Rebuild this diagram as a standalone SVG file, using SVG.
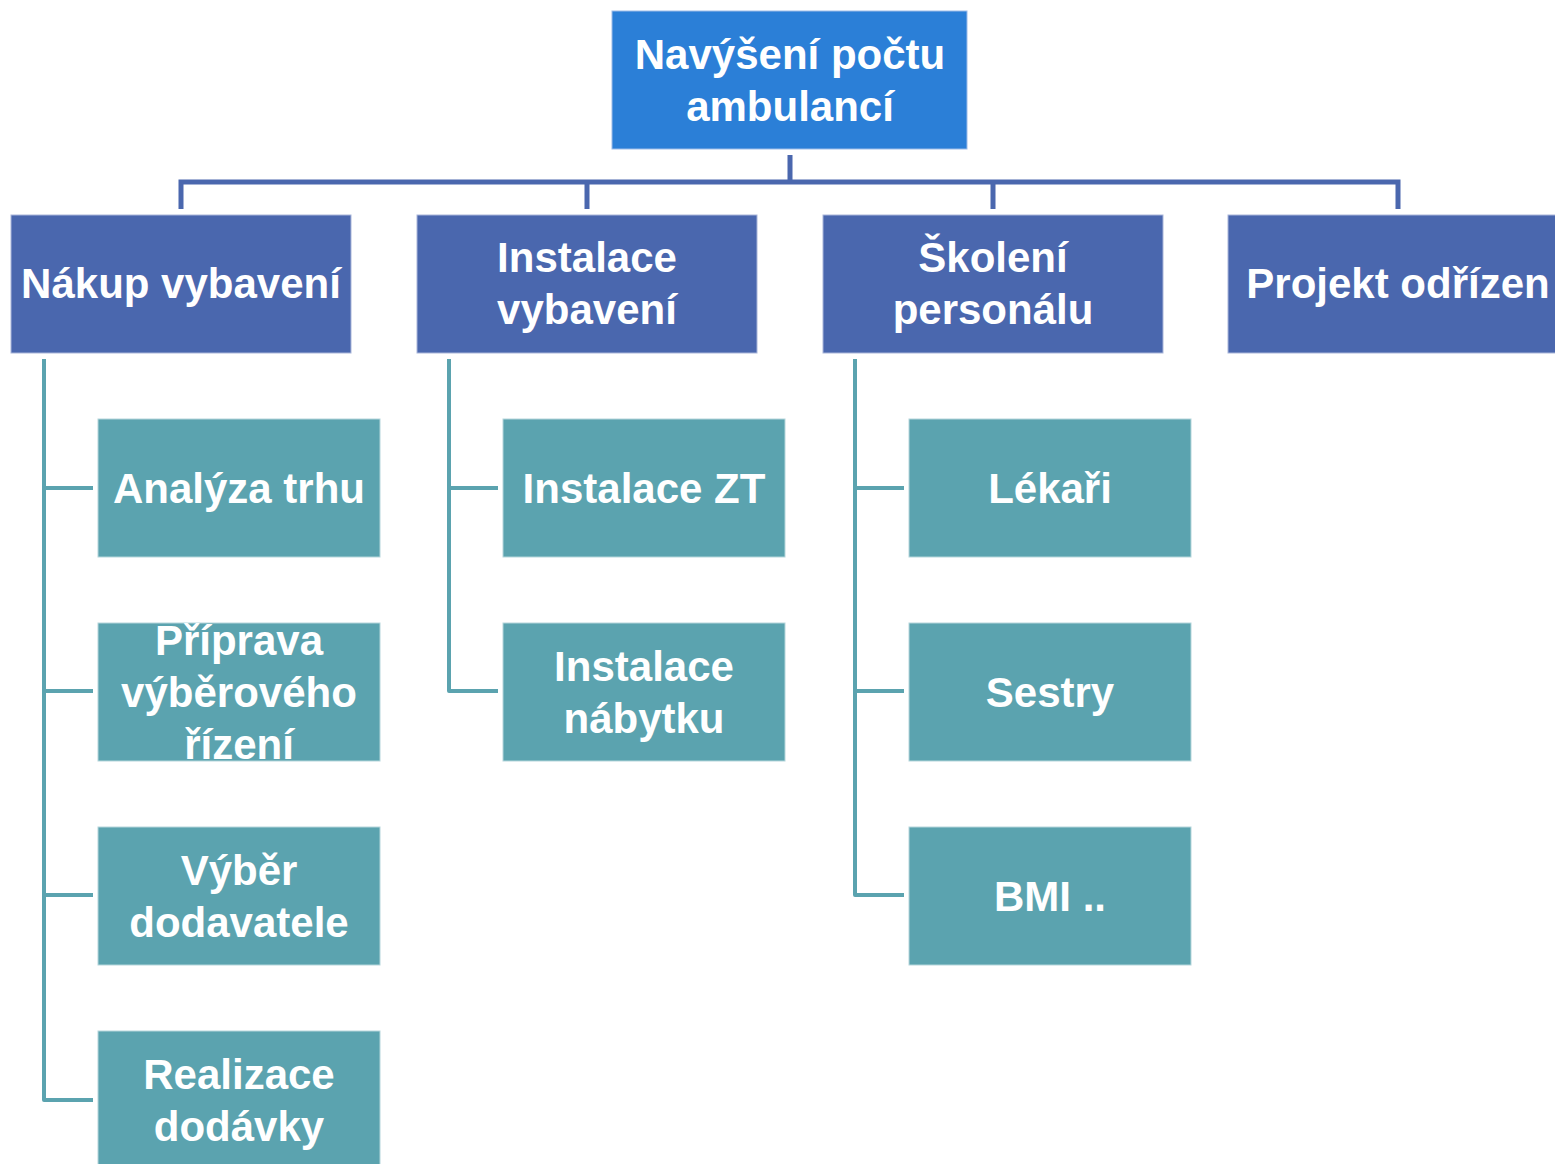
<svg xmlns="http://www.w3.org/2000/svg" width="1555" height="1164" viewBox="0 0 1555 1164">
<style>
text{font-family:"Liberation Sans",Arial,sans-serif;font-weight:bold;font-size:42px;fill:#ffffff;text-anchor:middle}
.top{fill:#2B7FD7;stroke:#9DBCE8;stroke-width:1}
.l2{fill:#4A67AE;stroke:#A9B6D9;stroke-width:1}
.l3{fill:#5BA3AF;stroke:#B5D6DB;stroke-width:1}
.c1{fill:none;stroke:#4A67AE;stroke-width:5}
.c2{fill:none;stroke:#5BA3AF;stroke-width:4;stroke-linejoin:round}
</style>
<rect width="1555" height="1164" fill="#ffffff"/>
<g id="connectors">
<path class="c1" d="M790 155V182M181 209V182H1398V209M587 209V182M993 209V182"/>
<path class="c2" d="M44 359V1100H93M44 488H93M44 691H93M44 895H93"/>
<path class="c2" d="M449 359V691H498M449 488H498"/>
<path class="c2" d="M855 359V895H904M855 488H904M855 691H904"/>
</g>
<g id="n-root"><rect class="top" x="612" y="11" width="355" height="138"/><text x="790" y="69">Navýšení počtu</text><text x="790" y="121">ambulancí</text></g>
<g id="n-nakup"><rect class="l2" x="11" y="215" width="340" height="138"/><text x="181" y="298">Nákup vybavení</text></g>
<g id="n-instalace"><rect class="l2" x="417" y="215" width="340" height="138"/><text x="587" y="272">Instalace</text><text x="587" y="324">vybavení</text></g>
<g id="n-skoleni"><rect class="l2" x="823" y="215" width="340" height="138"/><text x="993" y="272">Školení</text><text x="993" y="324">personálu</text></g>
<g id="n-projekt"><rect class="l2" x="1228" y="215" width="340" height="138"/><text x="1398" y="298">Projekt odřízen</text></g>
<g id="n-analyza"><rect class="l3" x="98" y="419" width="282" height="138"/><text x="239" y="503">Analýza trhu</text></g>
<g id="n-priprava"><rect class="l3" x="98" y="623" width="282" height="138"/><text x="239" y="655">Příprava</text><text x="239" y="707">výběrového</text><text x="239" y="759">řízení</text></g>
<g id="n-vyber"><rect class="l3" x="98" y="827" width="282" height="138"/><text x="239" y="885">Výběr</text><text x="239" y="937">dodavatele</text></g>
<g id="n-realizace"><rect class="l3" x="98" y="1031" width="282" height="138"/><text x="239" y="1089">Realizace</text><text x="239" y="1141">dodávky</text></g>
<g id="n-instzt"><rect class="l3" x="503" y="419" width="282" height="138"/><text x="644" y="503">Instalace ZT</text></g>
<g id="n-instnab"><rect class="l3" x="503" y="623" width="282" height="138"/><text x="644" y="681">Instalace</text><text x="644" y="733">nábytku</text></g>
<g id="n-lekari"><rect class="l3" x="909" y="419" width="282" height="138"/><text x="1050" y="503">Lékaři</text></g>
<g id="n-sestry"><rect class="l3" x="909" y="623" width="282" height="138"/><text x="1050" y="707">Sestry</text></g>
<g id="n-bmi"><rect class="l3" x="909" y="827" width="282" height="138"/><text x="1050" y="911">BMI ..</text></g>
</svg>
